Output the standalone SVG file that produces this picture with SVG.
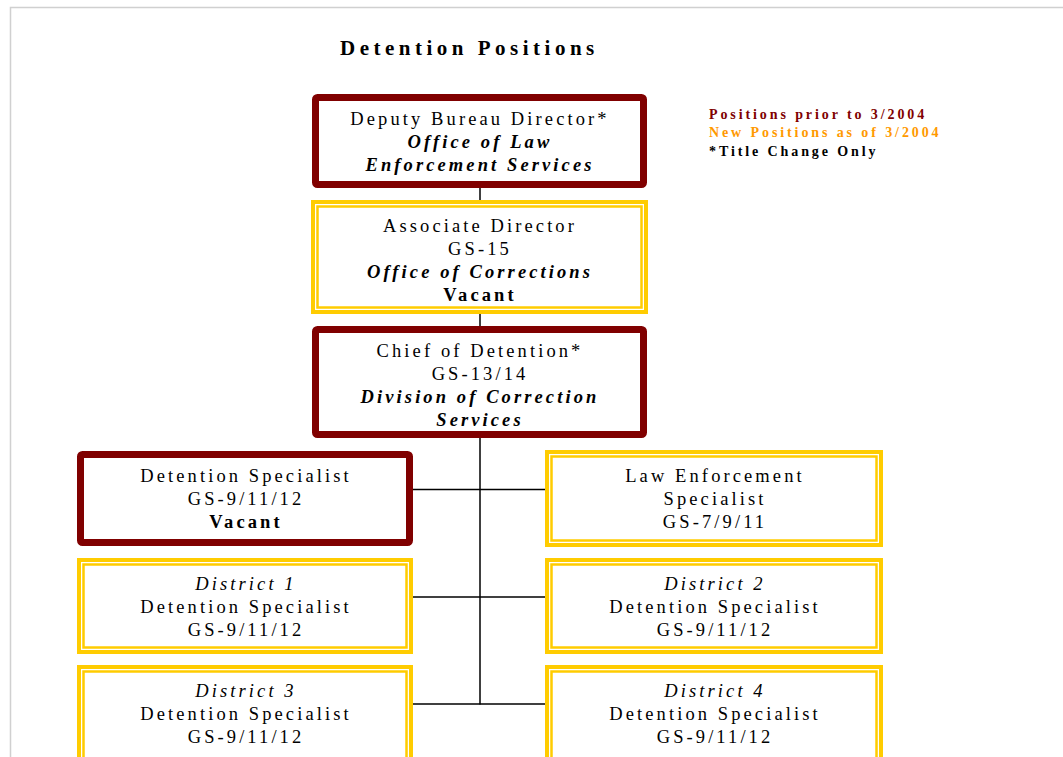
<svg xmlns="http://www.w3.org/2000/svg" width="1063" height="757" viewBox="0 0 1063 757">
<style>
text{font-family:"Liberation Serif","Times New Roman",serif;fill:#000;}
.t{font-size:18.5px;letter-spacing:3.1px;text-anchor:middle;}
.bi{font-weight:bold;font-style:italic;}
.b{font-weight:bold;}
.i{font-style:italic;}
.red{fill:#fff;stroke:#800000;stroke-width:7;}
.yo{fill:#fff;stroke:#FFCC00;stroke-width:4;}
.yi{fill:none;stroke:#FFCC00;stroke-width:2.5;}
.leg{font-size:14px;font-weight:bold;letter-spacing:2.9px;}
.conn line{stroke:#000;stroke-width:1.5;}
</style>
<rect width="1063" height="757" fill="#fff"/>
<path d="M10.5,757 V7.5 H1063" fill="none" stroke="#d0d0d0" stroke-width="1.5"/>
<text x="340" y="55" font-size="21" font-weight="bold" letter-spacing="4.5">Detention Positions</text>
<g id="legend">
<text class="leg" x="709" y="119" style="fill:#800000">Positions prior to 3/2004</text>
<text class="leg" x="709" y="137" style="fill:#FF9900">New Positions as of 3/2004</text>
<text class="leg" x="709" y="156">*Title Change Only</text>
</g>
<g class="conn" id="connectors">
<line x1="480" y1="188" x2="480" y2="201"/>
<line x1="480" y1="313" x2="480" y2="327"/>
<line x1="480" y1="438" x2="480" y2="704.5"/>
<line x1="413" y1="489.5" x2="546" y2="489.5"/>
<line x1="410" y1="597" x2="546" y2="597"/>
<line x1="413" y1="704" x2="546" y2="704"/>
</g>
<g id="deputy">
<rect class="red" x="315.5" y="97.5" width="328" height="87" rx="2"/>
<text class="t" x="480" y="125">Deputy Bureau Director*</text>
<text class="t bi" x="480" y="148">Office of Law</text>
<text class="t bi" x="480" y="171">Enforcement Services</text>
</g>
<g id="associate">
<rect class="yo" x="313" y="202" width="333" height="110"/>
<rect class="yi" x="317.5" y="206.5" width="324" height="101"/>
<text class="t" x="480" y="232">Associate Director</text>
<text class="t" x="480" y="255">GS-15</text>
<text class="t bi" x="480" y="278">Office of Corrections</text>
<text class="t b" x="480" y="301">Vacant</text>
</g>
<g id="chief">
<rect class="red" x="315.5" y="329.5" width="328" height="105" rx="2"/>
<text class="t" x="480" y="357">Chief of Detention*</text>
<text class="t" x="480" y="380">GS-13/14</text>
<text class="t bi" x="480" y="403">Division of Correction</text>
<text class="t bi" x="480" y="426">Services</text>
</g>
<g id="det-spec">
<rect class="red" x="80.5" y="454.5" width="329" height="88" rx="2"/>
<text class="t" x="246" y="482">Detention Specialist</text>
<text class="t" x="246" y="505">GS-9/11/12</text>
<text class="t b" x="246" y="528">Vacant</text>
</g>
<g id="law-enf">
<rect class="yo" x="547" y="452" width="334" height="93"/>
<rect class="yi" x="551.5" y="456.5" width="325" height="84"/>
<text class="t" x="715" y="482">Law Enforcement</text>
<text class="t" x="715" y="505">Specialist</text>
<text class="t" x="715" y="528">GS-7/9/11</text>
</g>
<g id="district1">
<rect class="yo" x="79" y="560" width="332" height="92"/>
<rect class="yi" x="83.5" y="564.5" width="323" height="83"/>
<text class="t i" x="246" y="590">District 1</text>
<text class="t" x="246" y="613">Detention Specialist</text>
<text class="t" x="246" y="636">GS-9/11/12</text>
</g>
<g id="district2">
<rect class="yo" x="547" y="560" width="334" height="92"/>
<rect class="yi" x="551.5" y="564.5" width="325" height="83"/>
<text class="t i" x="715" y="590">District 2</text>
<text class="t" x="715" y="613">Detention Specialist</text>
<text class="t" x="715" y="636">GS-9/11/12</text>
</g>
<g id="district3">
<rect class="yo" x="79" y="667" width="332" height="110"/>
<rect class="yi" x="83.5" y="671.5" width="323" height="101"/>
<text class="t i" x="246" y="697">District 3</text>
<text class="t" x="246" y="720">Detention Specialist</text>
<text class="t" x="246" y="743">GS-9/11/12</text>
</g>
<g id="district4">
<rect class="yo" x="547" y="667" width="334" height="110"/>
<rect class="yi" x="551.5" y="671.5" width="325" height="101"/>
<text class="t i" x="715" y="697">District 4</text>
<text class="t" x="715" y="720">Detention Specialist</text>
<text class="t" x="715" y="743">GS-9/11/12</text>
</g>
</svg>
